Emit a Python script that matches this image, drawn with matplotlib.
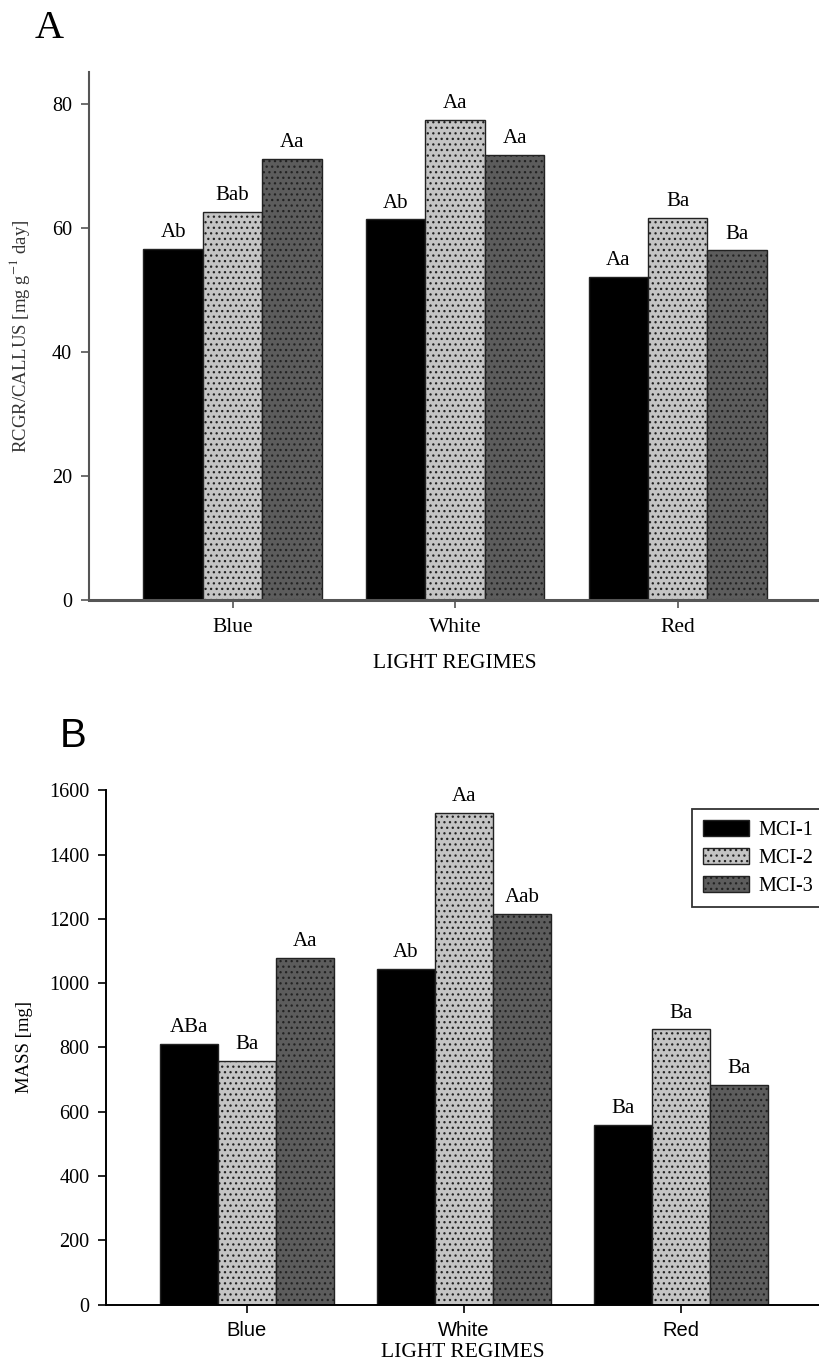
import numpy as np
import matplotlib
matplotlib.use("Agg")
import matplotlib.pyplot as plt

# data
regimes = ["Blue", "White", "Red"]
series = ["MCI-1", "MCI-2", "MCI-3"]

rcgr_mci1 = [56.6, 61.4, 52.1]
rcgr_mci2 = [62.6, 77.4, 61.6]
rcgr_mci3 = [71.2, 71.8, 56.4]
rcgr_letters = [["Ab", "Ab", "Aa"], ["Bab", "Aa", "Ba"], ["Aa", "Aa", "Ba"]]

mass_mci1 = [810, 1045, 558]
mass_mci2 = [758, 1529, 856]
mass_mci3 = [1079, 1216, 684]
mass_letters = [["ABa", "Ab", "Ba"], ["Ba", "Aa", "Ba"], ["Aa", "Aab", "Ba"]]

plt.rcParams["font.family"] = ["Liberation Serif", "DejaVu Serif"]
plt.rcParams["mathtext.fontset"] = "stix"
plt.rcParams["hatch.linewidth"] = 0.9

fills = ["#000000", "#c4c4c4", "#5c5c5c"]
hatches = [None, "...", "..."]
w = 0.267

fig = plt.figure(figsize=(8.2, 13.69), dpi=100)

# %% panel A
axA = fig.add_axes([0.1082, 0.5617, 0.8918, 0.3857])
x = np.arange(len(regimes))
for k, (vals, labs) in enumerate(zip([rcgr_mci1, rcgr_mci2, rcgr_mci3], rcgr_letters)):
    bars = axA.bar(x + (k - 1) * w, vals, w, color=fills[k], edgecolor="#222222",
                   linewidth=1.0, hatch=hatches[k], label=series[k])
    for b, t in zip(bars, labs):
        axA.annotate(t, (b.get_x() + b.get_width() / 2, b.get_height()),
                     xytext=(0, 8.5), textcoords="offset points",
                     ha="center", va="baseline", fontsize=15)
axA.set_xlim(-0.646, 2.639)
axA.set_ylim(0, 85.16)
axA.set_yticks([0, 20, 40, 60, 80])
axA.set_xticks(x)
axA.set_xticklabels(regimes)
axA.tick_params(axis="y", labelsize=14.5, length=6, width=1.2, pad=6, color="#555555")
axA.tick_params(axis="x", labelsize=15.5, length=6, width=1.2, pad=7, color="#555555")
for s in ["top", "right"]:
    axA.spines[s].set_visible(False)
axA.spines["left"].set_color("#555555")
axA.spines["left"].set_linewidth(1.5)
axA.spines["bottom"].set_color("#555555")
axA.spines["bottom"].set_linewidth(2.2)
axA.set_ylabel(r"RCGR/CALLUS [mg g$^{-1}$ day]", fontsize=13.5, color="#333333")
axA.yaxis.set_label_coords(-0.078, 0.5)
axA.set_xlabel("LIGHT REGIMES", fontsize=15.5, labelpad=12)
fig.text(0.0427, 0.972, "A", fontsize=29, ha="left", va="baseline")

# %% panel B
axB = fig.add_axes([0.1296, 0.0471, 0.8704, 0.3755])
for k, (vals, labs) in enumerate(zip([mass_mci1, mass_mci2, mass_mci3], mass_letters)):
    bars = axB.bar(x + (k - 1) * w, vals, w, color=fills[k], edgecolor="#222222",
                   linewidth=1.0, hatch=hatches[k], label=series[k])
    for b, t in zip(bars, labs):
        axB.annotate(t, (b.get_x() + b.get_width() / 2, b.get_height()),
                     xytext=(0, 8.5), textcoords="offset points",
                     ha="center", va="baseline", fontsize=15)
axB.set_xlim(-0.648, 2.64)
axB.set_ylim(0, 1600)
axB.set_yticks(np.arange(0, 1601, 200))
axB.set_xticks(x)
axB.set_xticklabels(regimes, family=["Liberation Sans", "DejaVu Sans"])
axB.tick_params(axis="y", labelsize=14.5, length=6, width=1.2, pad=6)
axB.tick_params(axis="x", labelsize=14.5, length=6, width=1.2, pad=6)
for s in ["top", "right"]:
    axB.spines[s].set_visible(False)
axB.spines["left"].set_linewidth(1.4)
axB.spines["bottom"].set_linewidth(1.4)
axB.set_ylabel("MASS [mg]", fontsize=13.5)
axB.yaxis.set_label_coords(-0.102, 0.5)
axB.set_xlabel("LIGHT REGIMES", fontsize=15.5, labelpad=2)
leg = axB.legend(loc="upper left", bbox_to_anchor=(0.8206, 0.964), fontsize=14.5,
                 fancybox=False, edgecolor="#333333", framealpha=1,
                 handlelength=2.3, handleheight=0.85, labelspacing=0.4,
                 borderpad=0.55, handletextpad=0.45, borderaxespad=0)
leg.get_frame().set_linewidth(1.3)
fig.text(0.073, 0.4545, "B", fontsize=29, ha="left", va="baseline",
         family=["Liberation Sans", "DejaVu Sans"])

fig.savefig("out.png", dpi=100)
